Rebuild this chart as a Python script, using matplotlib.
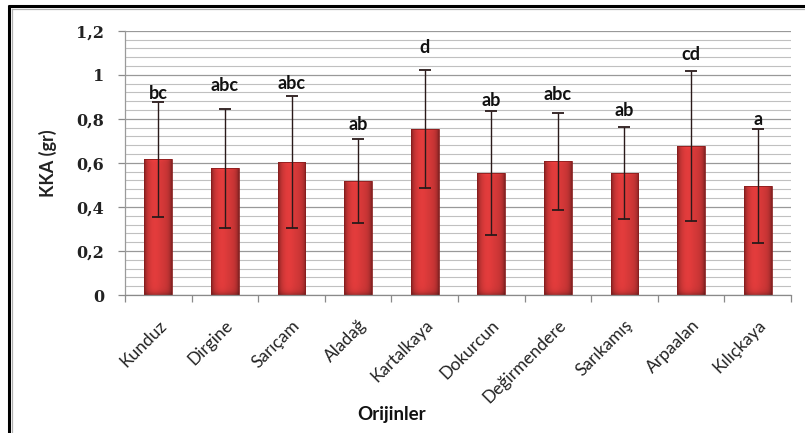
import numpy as np
import matplotlib
matplotlib.use("Agg")
import matplotlib.pyplot as plt
from matplotlib.ticker import MultipleLocator, FuncFormatter
from matplotlib.lines import Line2D

# Origins and seed weight (mean ± sd) with Duncan groups
origins = ["Kunduz", "Dirgine", "Sarıçam", "Aladağ", "Kartalkaya",
           "Dokurcun", "Değirmendere", "Sarıkamış", "Arpaalan", "Kılıçkaya"]
means = [0.616, 0.575, 0.605, 0.517, 0.754, 0.554, 0.607, 0.554, 0.676, 0.496]
sds = [0.26, 0.27, 0.30, 0.19, 0.27, 0.28, 0.22, 0.21, 0.34, 0.26]
groups = ["bc", "abc", "abc", "ab", "d", "ab", "abc", "ab", "cd", "a"]

# gap (points) between error cap and centre of the group letter
letter_pad = [6.5, 17, 8.5, 11, 16, 7.5, 13, 11.5, 12, 6.5]

fig = plt.figure(figsize=(8.05, 4.33), dpi=100)
fig.patch.set_facecolor("white")

# outer frame (top and left edges)
fig.add_artist(Line2D([0.0112, 0.0112], [0, 0.9885], transform=fig.transFigure,
                      color="black", lw=2.2, solid_capstyle="butt"))
fig.add_artist(Line2D([0.010, 1.0], [0.9865, 0.9865], transform=fig.transFigure,
                      color="black", lw=2.2, solid_capstyle="butt"))
fig.add_artist(Line2D([0.0155, 0.0155], [0, 0.980], transform=fig.transFigure,
                      color="#b0b0b0", lw=0.9))
fig.add_artist(Line2D([0.0155, 1.0], [0.980, 0.980], transform=fig.transFigure,
                      color="#b0b0b0", lw=0.9))

ax = fig.add_axes([0.1553, 0.3187, 0.8273, 0.6103])

# gridlines: major every 0.2, minor every 0.04
ax.yaxis.set_major_locator(MultipleLocator(0.2))
ax.yaxis.set_minor_locator(MultipleLocator(0.04))
ax.grid(axis="y", which="major", color="#999999", lw=0.9)
ax.grid(axis="y", which="minor", color="#c0c0c0", lw=0.8)
ax.set_axisbelow(True)

x = np.arange(len(origins))
width = 0.415
bars = ax.bar(x, means, width=width, color="#c83232", edgecolor="#8a1d1d",
              lw=0.6, zorder=2)

# cylinder-like shading inside each bar
h = np.linspace(0, 1, 80)[None, :]
v = np.linspace(0, 1, 120)[:, None]
edge = np.exp(-h / 0.09) + 0.9 * np.exp(-(1 - h) / 0.10)
glow = 0.08 * np.exp(-((h - 0.38) / 0.22) ** 2)
shade = np.clip(1.0 - 0.45 * edge + glow, 0, 1.1)
base = np.array([0.83, 0.22, 0.22])
for b in bars:
    x0, y0 = b.get_x(), b.get_y()
    bh = b.get_height()
    bottom = 1 - 0.25 * np.exp(-(v * bh) / 0.012)
    top = 1 + 0.08 * np.exp(-((1 - v) * bh) / 0.006)
    fac = shade * bottom * top
    rgb = np.clip(base[None, None, :] * fac[:, :, None], 0, 1)
    im = ax.imshow(rgb, aspect="auto", origin="lower", interpolation="bilinear",
                   extent=(x0, x0 + b.get_width(), y0, y0 + bh), zorder=2.1)
    im.set_clip_path(b)
for b in bars:
    b.set_facecolor("none")
    b.set_zorder(2.2)

ax.errorbar(x, means, yerr=sds, fmt="none", ecolor="#2a1a1a", elinewidth=1.0,
            capsize=4, capthick=1.3, zorder=3)

for xi, m, s, g, p in zip(x, means, sds, groups, letter_pad):
    ax.annotate(g, (xi, m + s), xytext=(0, p), textcoords="offset points",
                ha="center", va="center", fontsize=13, fontweight="bold",
                family="Lato", color="#111111")

ax.set_ylim(0, 1.2)
ax.set_xlim(-0.5, len(origins) - 0.5)

ax.yaxis.set_major_formatter(FuncFormatter(
    lambda val, _: ("%g" % round(val, 2)).replace(".", ",")))
ax.tick_params(axis="y", which="major", length=5, color="#8a8a8a", width=0.9,
               pad=10, labelsize=11.5)
ax.tick_params(axis="y", which="minor", length=0)
for lab in ax.get_yticklabels():
    lab.set_family("DejaVu Serif")
    lab.set_fontweight("bold")
    lab.set_color("#222222")

ax.set_xticks(x)
ax.set_xticklabels(origins, rotation=45, ha="right", rotation_mode="anchor",
                   fontsize=12.5, family="Lato", color="#222222")
ax.tick_params(axis="x", which="major", length=0, pad=16)
ax.set_xticks(np.arange(len(origins) + 1) - 0.5, minor=True)
ax.tick_params(axis="x", which="minor", length=5, color="#8a8a8a", width=0.9)

for side in ("top", "right"):
    ax.spines[side].set_visible(False)
ax.spines["left"].set_color("#9a9a9a")
ax.spines["bottom"].set_color("#8a8a8a")
ax.spines["left"].set_linewidth(0.9)
ax.spines["bottom"].set_linewidth(0.9)

ax.set_ylabel("KKA (gr)", fontsize=13, fontweight="bold", family="Lato",
              color="#222222", labelpad=14)
ax.set_xlabel("Orijinler", fontsize=13.5, fontweight="bold", family="Lato",
              color="#111111", labelpad=2)
ax.xaxis.set_label_coords(0.40, -0.42)

fig.savefig("out.png", dpi=100, facecolor="white")
